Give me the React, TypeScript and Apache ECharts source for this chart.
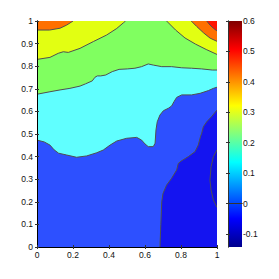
import React, { useEffect, useRef } from "react";
import * as echarts from "echarts";

// Contour boundaries, in data coordinates [x, y]
const blueCyanLine = [[0,0.473],[0.04,0.465],[0.072,0.451],[0.095,0.43],[0.12,0.415],[0.165,0.407],[0.22,0.397],[0.276,0.403],[0.332,0.417],[0.368,0.429],[0.406,0.451],[0.443,0.469],[0.498,0.481],[0.554,0.485],[0.581,0.473],[0.6,0.456],[0.618,0.444],[0.646,0.444],[0.656,0.459],[0.661,0.518],[0.668,0.554],[0.683,0.584],[0.702,0.603],[0.73,0.614],[0.748,0.624],[0.761,0.643],[0.776,0.662],[0.804,0.673],[0.859,0.673],[0.906,0.68],[0.952,0.692],[0.98,0.702],[1,0.707]];
const greenCyanLine = [[0,0.676],[0.072,0.687],[0.128,0.695],[0.183,0.702],[0.239,0.712],[0.27,0.722],[0.307,0.735],[0.322,0.751],[0.335,0.757],[0.354,0.757],[0.382,0.761],[0.418,0.776],[0.456,0.786],[0.502,0.788],[0.544,0.791],[0.581,0.798],[0.618,0.81],[0.646,0.805],[0.693,0.798],[0.748,0.798],[0.804,0.793],[0.859,0.791],[0.915,0.788],[0.974,0.783],[1,0.783]];
const yellowGreenLeftLine = [[0,0.83],[0.072,0.839],[0.118,0.857],[0.146,0.864],[0.174,0.861],[0.239,0.879],[0.313,0.909],[0.387,0.938],[0.443,0.967],[0.48,0.992],[0.492,1]];
const yellowGreenRightLine = [[0.72,1],[0.77,0.96],[0.822,0.925],[0.88,0.898],[0.94,0.874],[1,0.852]];
const orangeYellowLeftLine = [[0,0.96],[0.07,0.96],[0.128,0.968],[0.165,0.982],[0.2,1]];
const orangeYellowRightLine = [[0.857,1],[0.887,0.976],[0.926,0.947],[0.962,0.924],[1,0.91]];
const redOrangeLine = [[0.943,1],[0.961,0.982],[0.98,0.968],[1,0.956]];
const darkBlueLine = [[0.683,0],[0.688,0.1],[0.693,0.2],[0.7,0.237],[0.72,0.274],[0.748,0.304],[0.776,0.341],[0.785,0.37],[0.804,0.382],[0.841,0.4],[0.878,0.422],[0.896,0.451],[0.908,0.488],[0.915,0.503],[0.924,0.532],[0.943,0.554],[0.97,0.577],[1,0.606]];
const darkestLine = [[1,0.43],[0.98,0.4],[0.967,0.355],[0.961,0.296],[0.967,0.252],[0.98,0.208],[1,0.175]];

const xTicks = [0, 0.2, 0.4, 0.6, 0.8, 1];
const yTicks = [0, 0.1, 0.2, 0.3, 0.4, 0.5, 0.6, 0.7, 0.8, 0.9, 1];
const colorbarTicks = [-0.1, 0, 0.1, 0.2, 0.3, 0.4, 0.5, 0.6];
const colorbarRange = [-0.143, 0.6];

const fills = {
  base: "#2d50ff",
  cyan: "#60ffff",
  green: "#80ff60",
  yellow: "#e2ff12",
  orange: "#ff7000",
  red: "#ff1400",
  dark: "#1414f0",
  darkest: "#0f0fdc",
};

const jetStops = [
  [0, "#800000"],
  [0.125, "#ff0000"],
  [0.375, "#ffff00"],
  [0.625, "#00ffff"],
  [0.875, "#0000ff"],
  [1, "#00008c"],
];

const regions = [
  { line: [[0, 0], [1, 0]], close: [[1, 1], [0, 1]], fill: fills.base, stroke: false },
  { line: blueCyanLine, close: [[1, 1], [0, 1]], fill: fills.cyan, stroke: true },
  { line: greenCyanLine, close: [[1, 1], [0, 1]], fill: fills.green, stroke: true },
  { line: yellowGreenLeftLine, close: [[0, 1]], fill: fills.yellow, stroke: true },
  { line: yellowGreenRightLine, close: [[1, 1]], fill: fills.yellow, stroke: true },
  { line: orangeYellowLeftLine, close: [[0, 1]], fill: fills.orange, stroke: true },
  { line: orangeYellowRightLine, close: [[1, 1]], fill: fills.orange, stroke: true },
  { line: redOrangeLine, close: [[1, 1]], fill: fills.red, stroke: true },
  { line: darkBlueLine, close: [[1, 0]], fill: fills.dark, stroke: true },
  { line: darkestLine, close: [], fill: fills.darkest, stroke: true },
];

const FONT = "'Liberation Sans Narrow', 'Liberation Sans', Arial, sans-serif";

export default function App() {
  const ref = useRef<HTMLDivElement>(null);
  useEffect(() => {
    if (!ref.current) return;
    const chart = echarts.init(ref.current, null, { renderer: "svg" });
    const labelStyle = { fontSize: 8.5, color: "#111", fontFamily: FONT };
    const lineStyle = { color: "#000", width: 1 };
    const cbLine = { color: "#333", width: 1 };
    chart.setOption({
      animation: false,
      backgroundColor: "#fff",
      grid: [
        { left: 37, top: 21, width: 180, height: 226 },
        { left: 228, top: 21, width: 14, height: 226 },
      ],
      xAxis: [
        {
          gridIndex: 0, type: "value", min: 0, max: 1, interval: 0.2, position: "bottom", z: 10,
          axisLine: { show: true, lineStyle },
          axisTick: { show: true, inside: true, length: 2, lineStyle: { color: "#333" }, customValues: xTicks },
          axisLabel: { ...labelStyle, margin: 3, customValues: xTicks },
          splitLine: { show: false },
        },
        {
          gridIndex: 0, type: "value", min: 0, max: 1, interval: 0.2, position: "top", z: 10,
          axisLine: { show: true, lineStyle },
          axisTick: { show: true, inside: true, length: 2, lineStyle: { color: "#333" } },
          axisLabel: { show: false },
          splitLine: { show: false },
        },
        {
          gridIndex: 1, type: "value", min: 0, max: 1, position: "bottom", z: 10,
          axisLine: { show: true, lineStyle: cbLine },
          axisTick: { show: false }, axisLabel: { show: false }, splitLine: { show: false },
        },
        {
          gridIndex: 1, type: "value", min: 0, max: 1, position: "top", z: 10,
          axisLine: { show: true, lineStyle: cbLine },
          axisTick: { show: false }, axisLabel: { show: false }, splitLine: { show: false },
        },
      ],
      yAxis: [
        {
          gridIndex: 0, type: "value", min: 0, max: 1, interval: 0.1, position: "left", z: 10,
          axisLine: { show: true, lineStyle },
          axisTick: { show: true, inside: true, length: 2, lineStyle: { color: "#333" }, customValues: yTicks },
          axisLabel: { ...labelStyle, margin: 4, customValues: yTicks },
          splitLine: { show: false },
        },
        {
          gridIndex: 0, type: "value", min: 0, max: 1, interval: 0.1, position: "right", z: 10,
          axisLine: { show: true, lineStyle },
          axisTick: { show: true, inside: true, length: 2, lineStyle: { color: "#333" } },
          axisLabel: { show: false },
          splitLine: { show: false },
        },
        {
          gridIndex: 1, type: "value", min: colorbarRange[0], max: colorbarRange[1], position: "right", z: 10,
          axisLine: { show: true, lineStyle: cbLine },
          axisTick: { show: true, inside: true, length: 2, lineStyle: { color: "#333" }, customValues: colorbarTicks },
          axisLabel: { ...labelStyle, margin: 1, customValues: colorbarTicks },
          splitLine: { show: false },
        },
        {
          gridIndex: 1, type: "value", min: colorbarRange[0], max: colorbarRange[1], position: "left", z: 10,
          axisLine: { show: true, lineStyle: cbLine },
          axisTick: { show: true, inside: true, length: 2, lineStyle: { color: "#333" }, customValues: colorbarTicks },
          axisLabel: { show: false },
          splitLine: { show: false },
        },
      ],
      series: [
        {
          type: "custom",
          coordinateSystem: "cartesian2d",
          xAxisIndex: 0,
          yAxisIndex: 0,
          z: 2,
          clip: true,
          data: regions.map((_, i) => [0.5, 0.5, i]),
          renderItem: (params: any, api: any) => {
            const r = regions[params.dataIndex];
            const pts = r.line.concat(r.close).map((p) => api.coord(p));
            const children: any[] = [
              { type: "polygon", shape: { points: pts }, style: { fill: r.fill, stroke: "none" } },
            ];
            if (r.stroke) {
              children.push({
                type: "polyline",
                shape: { points: r.line.map((p) => api.coord(p)) },
                style: { stroke: "#505050", lineWidth: 1, fill: "none" },
              });
            }
            return { type: "group", children };
          },
        },
        {
          type: "custom",
          coordinateSystem: "cartesian2d",
          xAxisIndex: 2,
          yAxisIndex: 2,
          z: 2,
          data: [[0, colorbarRange[0]]],
          renderItem: (params: any, api: any) => {
            const p0 = api.coord([0, colorbarRange[1]]);
            const p1 = api.coord([1, colorbarRange[0]]);
            return {
              type: "rect",
              shape: { x: p0[0], y: p0[1], width: p1[0] - p0[0], height: p1[1] - p0[1] },
              style: {
                fill: new echarts.graphic.LinearGradient(
                  0, 0, 0, 1,
                  jetStops.map(([offset, color]) => ({ offset: offset as number, color: color as string }))
                ),
              },
            };
          },
        },
      ],
    });
    return () => chart.dispose();
  }, []);
  return (
    <div
      ref={ref}
      style={{ position: "fixed", left: 0, top: 0, width: 279, height: 279 }}
    />
  );
}
